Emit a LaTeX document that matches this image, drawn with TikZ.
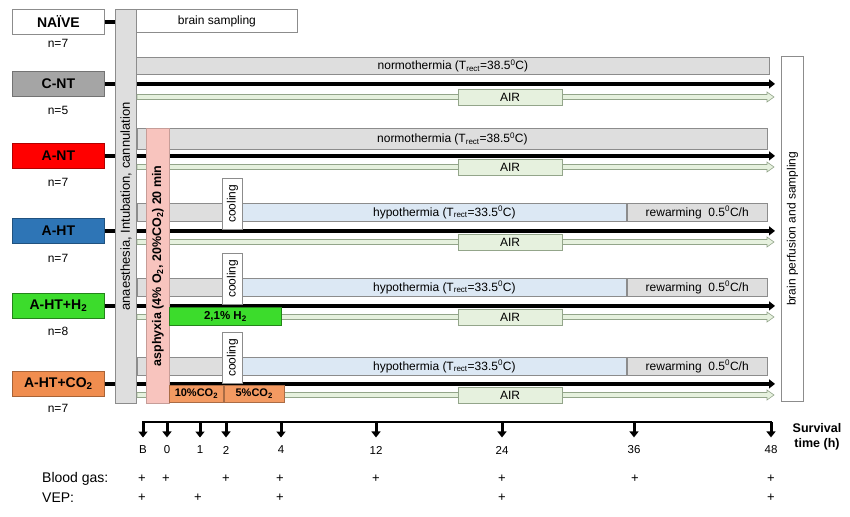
\documentclass[tikz,border=0pt]{standalone}
\usepackage{fontspec}
\setmainfont{Liberation Sans}
\usetikzlibrary{arrows.meta, positioning}
\definecolor{barfill}{HTML}{DEDEDE}
\definecolor{edgegray}{HTML}{8C8C8C}
\definecolor{hypoblue}{HTML}{DCE8F4}
\definecolor{airgreen}{HTML}{E6F1DE}
\definecolor{airedge}{HTML}{93A58A}
\definecolor{cntgray}{HTML}{A5A5A5}
\definecolor{antred}{HTML}{FF0000}
\definecolor{ahtblue}{HTML}{2E75B6}
\definecolor{hgreen}{HTML}{3CDC2C}
\definecolor{corange}{HTML}{F08D4F}
\definecolor{colight}{HTML}{F39A62}
\definecolor{asphpink}{HTML}{F8C4BE}

\begin{document}
\begin{tikzpicture}[x=1pt, y=-1pt,
    box/.style={draw=edgegray, line width=.8pt, anchor=north west, inner sep=0pt, font=\fontsize{12}{14}\selectfont},
    group/.style={box, minimum width=92pt, minimum height=25pt, font=\fontsize{14}{16}\selectfont\bfseries},
    bar/.style={box, fill=barfill},
    hypo/.style={box, fill=hypoblue},
    air/.style={box, anchor=center, fill=airgreen, draw=airedge, minimum width=104pt, minimum height=16pt},
    lbl/.style={font=\fontsize{12}{14}\selectfont},
    rowline/.style={line width=3.5pt, -{Triangle[length=6pt,width=9pt]}},
    tickarrow/.style={line width=3pt, -{Triangle[length=6pt,width=9pt]}}
]
\useasboundingbox (0,0) rectangle (850,516);

% groups
\node[group, fill=white] (naive) at (12,9) {NAÏVE};
\node[group, fill=cntgray, draw=cntgray!70!black] (cnt) at (12,71) {C-NT};
\node[group, fill=antred, draw=antred!70!black] (ant) at (12,143) {A-NT};
\node[group, fill=ahtblue, draw=ahtblue!70!black] (aht) at (12,218) {A-HT};
\node[group, fill=hgreen, draw=hgreen!60!black] (ahth) at (12,293) {A-HT+H\textsubscript{2}};
\node[group, fill=corange, draw=corange!70!black] (ahtc) at (12,371) {A-HT+CO\textsubscript{2}};
\foreach \g/\n/\y in {naive/7/43, cnt/5/110, ant/7/182, aht/7/258, ahth/8/331, ahtc/7/408}
    \node[lbl] (n\g) at (58,\y) {n=\n};

% normothermia bars
\node[bar, minimum width=633pt, minimum height=17pt] (cntbar) at (136,57) {normothermia (T\textsubscript{rect}=38.5\textsuperscript{0}C)};
\node[bar, minimum width=630pt, minimum height=21pt] (antbar) at (137,128) {normothermia (T\textsubscript{rect}=38.5\textsuperscript{0}C)};

% hypothermia bars
\foreach \g/\y in {aht/203, ahth/278, ahtc/357}
{
    \node[bar, minimum width=105pt, minimum height=18pt] (\g pre) at (137,\y) {};
    \node[hypo, minimum width=384pt, minimum height=18pt] (\g hypo) at (242,\y) {};
    \node[lbl] (\g hypotext) at ([xshift=10pt]\g hypo.center) {hypothermia (T\textsubscript{rect}=33.5\textsuperscript{0}C)};
    \node[bar, minimum width=140pt, minimum height=18pt, right=0pt of \g hypo] (\g rew) {rewarming\ \ 0.5\textsuperscript{0}C/h};
}

% side bars
\node[bar, minimum width=21pt, minimum height=394pt] (anes) at (115,9) {};
\node[rotate=90, font=\fontsize{13}{15}\selectfont] (anestext) at (anes.center) {anaesthesia, Intubation, cannulation};
\node[box, minimum width=161pt, minimum height=23pt] (sampling) at (136,9) {brain sampling};
\node[box, minimum width=22pt, minimum height=345pt] (perf) at (781,56) {};
\node[rotate=90, lbl] (perftext) at (perf.center) {brain perfusion and sampling};

% time lines
\draw[line width=3.5pt] (naive.east) -- (anes.west |- naive.east);
\foreach \g in {cnt, ant, aht, ahth, ahtc}
{
    \draw[line width=3.5pt] (\g.east) -- (anes.west |- \g.east);
    \draw[rowline, shorten >=6pt] (anes.east |- \g.east) -- (perf.west |- \g.east);
}
\foreach \g/\y in {cnt/97, ant/167, aht/242, ahth/317, ahtc/395}
{
    \filldraw[fill=airgreen, draw=airedge, line width=.6pt] (137,\y-2.5) -- (767,\y-2.5) -- (767,\y-5) -- (774,\y) -- (767,\y+5) -- (767,\y+2.5) -- (137,\y+2.5) -- cycle;
    \node[air] (\g air) at (510,\y) {AIR};
}

% asphyxia and gases
\node[box, fill=asphpink, draw=asphpink!80!black, minimum width=23pt, minimum height=275pt] (asph) at (146,128) {};
\node[rotate=90, font=\fontsize{12.5}{15}\selectfont\bfseries] (asphtext) at (asph.center) {asphyxia (4\% O\textsubscript{2}, 20\%CO\textsubscript{2}) 20 min};
\node[box, fill=hgreen, draw=hgreen!60!black, minimum width=112pt, minimum height=18pt, font=\fontsize{11.5}{14}\selectfont\bfseries] (htwo) at (169,307) {2,1\% H\textsubscript{2}};
\node[box, fill=colight, draw=colight!70!black, minimum width=54pt, minimum height=17pt, font=\fontsize{11}{13}\selectfont\bfseries] (coten) at (169,385) {10\%CO\textsubscript{2}};
\node[box, fill=colight, draw=colight!70!black, minimum width=60pt, minimum height=17pt, font=\fontsize{11}{13}\selectfont\bfseries, right=0pt of coten] (cofive) {5\%CO\textsubscript{2}};

% cooling
\foreach \g/\y in {aht/178, ahth/253, ahtc/332}
{
    \node[box, fill=white, minimum width=20pt, minimum height=51pt] (\g cool) at (222,\y) {};
    \node[rotate=90, lbl] (\g cooltext) at (\g cool.center) {cooling};
}

% survival time axis
\coordinate (axL) at (142,422);
\coordinate (axR) at (772,422);
\draw[line width=2pt] (axL) -- (axR);
\foreach \t/\x in {B/143, 0/167, 1/200, 2/226, 4/281, 12/376, 24/502, 36/634, 48/771}
{
    \node[font=\fontsize{11.5}{14}\selectfont] (t\t) at (\x,450) {\t};
    \draw[tickarrow] (t\t |- axL) -- ([yshift=5pt]t\t.north);
}
\node[font=\fontsize{12.5}{15}\selectfont\bfseries, align=center] (surv) at (817,437) {Survival\\time (h)};

% measurements
\node[font=\fontsize{14}{16}\selectfont, anchor=west, inner sep=0pt] (bg) at (42,479) {Blood gas:};
\node[font=\fontsize{14}{16}\selectfont, anchor=west, inner sep=0pt] (vep) at (42,498) {VEP:};
\foreach \x in {142,166,226,280,376,502,635,771}
    \node[font=\fontsize{13}{15}\selectfont] (bg\x) at (\x,479) {+};
\foreach \x in {142,198,280,502,771}
    \node[font=\fontsize{13}{15}\selectfont] (vep\x) at (\x,498) {+};

\end{tikzpicture}
\end{document}
